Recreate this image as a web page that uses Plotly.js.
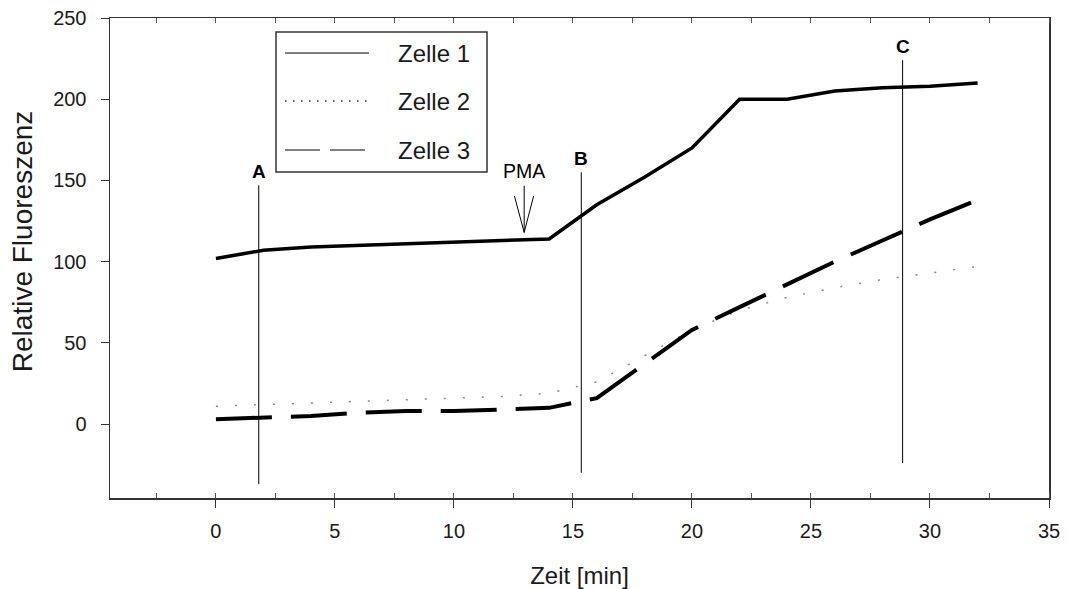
<!DOCTYPE html>
<html>
<head>
<meta charset="utf-8">
<script src="https://cdn.plot.ly/plotly-3.0.1.min.js"></script>
<style>html,body{margin:0;padding:0;background:#fff;}#chart{width:1069px;height:589px;}</style>
</head>
<body>
<div id="chart"></div>
<script>
// ---- data ----
const time = [0, 2, 4, 6, 8, 10, 12, 14, 16, 18, 20, 22, 24, 26, 28, 30, 32];
const zelle1 = [102, 107, 109, 110, 111, 112, 113, 114, 135, 152, 170, 200, 200, 205, 207, 208, 210];
const zelle2 = [11, 12, 13, 14, 15, 16, 17, 19, 26, 42, 58, 70, 78, 84, 89, 93, 97];
const zelle3 = [3, 4, 5, 7, 8, 8, 9, 10, 16, 37, 58, 72, 86, 100, 113, 126, 138];
const seriesNames = ["Zelle 1", "Zelle 2", "Zelle 3"];

const markerLabels = ["A", "B", "C"];
const markerX = [1.8, 15.35, 28.85];
const markerTop = [147, 155, 224];
const markerBottom = [-37, -30, -24];

const pmaLabel = "PMA";
const pmaX = 12.95;
const pmaTip = 118;

const xTicks = [0, 5, 10, 15, 20, 25, 30, 35];
const yTicks = [0, 50, 100, 150, 200, 250];
const xTitle = "Zeit [min]";
const yTitle = "Relative Fluoreszenz";

// ---- styling ----
const FONT = "Liberation Sans, Arial, sans-serif";
const lineStyles = [
  {color: "#000", width: 3.5, dash: "solid"},
  {color: "#888", width: 1.5, dash: "2px,17px"},
  {color: "#000", width: 4, dash: "56px,19px"}
];
const legendStyles = [
  {color: "#000", width: 1, dash: "solid"},
  {color: "#333", width: 1.5, dash: "1.5px,6.5px"},
  {color: "#000", width: 1, dash: "35px,10px"}
];
const seriesY = [zelle1, zelle2, zelle3];

const traces = seriesY.map((ys, i) => ({
  x: time, y: ys, type: "scatter", mode: "lines", name: seriesNames[i],
  line: lineStyles[i], showlegend: false, hoverinfo: "skip"
}));

markerX.forEach((mx, i) => {
  traces.push({
    x: [mx, mx], y: [markerTop[i], markerBottom[i]], type: "scatter", mode: "lines",
    xaxis: "x2", line: {color: "#000", width: 1}, showlegend: false, hoverinfo: "skip"
  });
});

const xRange = [-4.45, 35];
const yRange = [-45.5, 250];

const annotations = markerLabels.map((t, i) => ({
  x: markerX[i], y: markerTop[i], xref: "x", yref: "y", text: "<b>" + t + "</b>",
  showarrow: false, yanchor: "bottom", yshift: 1, font: {family: FONT, size: 19, color: "#000"}
}));
annotations.push({
  x: pmaX, y: pmaTip + 38, xref: "x", yref: "y", text: pmaLabel, showarrow: false,
  yanchor: "middle", font: {family: FONT, size: 19.5, color: "#000"}
});
annotations.push({
  x: -0.0937, y: 0.533, xref: "paper", yref: "paper", text: yTitle, textangle: -90,
  showarrow: false, xanchor: "center", yanchor: "middle",
  font: {family: FONT, size: 28, color: "#1a1a1a"}
});

// legend (manual)
const legX0 = 0.1768, legX1 = 0.4015, legY0 = 0.679, legY1 = 0.971;
const legRowY = [0.927, 0.827, 0.725];
const shapes = [
  {type: "rect", xref: "paper", yref: "paper", x0: legX0, x1: legX1, y0: legY0, y1: legY1,
   line: {color: "#333", width: 1.5}, fillcolor: "rgba(0,0,0,0)"},
  // PMA arrow
  {type: "path", xref: "x", yref: "y",
   path: `M ${pmaX - 0.41},${pmaTip + 22.5} L ${pmaX},${pmaTip} L ${pmaX + 0.4},${pmaTip + 22.5}`,
   line: {color: "#000", width: 1}},
  {type: "line", xref: "x", yref: "y", x0: pmaX, x1: pmaX, y0: pmaTip, y1: pmaTip + 28.7,
   line: {color: "#000", width: 1}}
];
seriesNames.forEach((n, i) => {
  shapes.push({type: "line", xref: "paper", yref: "paper", x0: 0.1864, x1: 0.2758,
    y0: legRowY[i], y1: legRowY[i], line: legendStyles[i]});
  annotations.push({x: 0.3046, y: legRowY[i], xref: "paper", yref: "paper", text: n,
    showarrow: false, xanchor: "left", yanchor: "middle",
    font: {family: FONT, size: 24, color: "#1a1a1a"}});
});

const layout = {
  width: 1069, height: 589,
  margin: {l: 110, r: 20, t: 18, b: 91},
  paper_bgcolor: "#fff", plot_bgcolor: "#fff",
  font: {family: FONT, color: "#1a1a1a"},
  showlegend: false,
  xaxis: {
    range: xRange, tickvals: xTicks, ticks: "outside", ticklen: 8, tickwidth: 1, tickcolor: "#333",
    showline: true, linecolor: "#333", linewidth: 1.5, mirror: true,
    showgrid: false, zeroline: false,
    minor: {dtick: 2.5, tick0: 0, ticks: "inside", ticklen: 5, tickwidth: 1, tickcolor: "#555", showgrid: false},
    tickfont: {family: FONT, size: 20, color: "#1a1a1a"}, ticklabelstandoff: 6,
    title: {text: xTitle, font: {family: FONT, size: 24, color: "#1a1a1a"}, standoff: 27}
  },
  xaxis2: {
    range: xRange, overlaying: "x", side: "top", showticklabels: false, ticks: "",
    showline: false, showgrid: false, zeroline: false, tickvals: xTicks,
    minor: {dtick: 2.5, tick0: 0, ticks: "inside", ticklen: 5, tickwidth: 1, tickcolor: "#555", showgrid: false}
  },
  yaxis: {
    range: yRange, tickvals: yTicks, ticks: "outside", ticklen: 8, tickwidth: 1, tickcolor: "#333",
    showline: true, linecolor: "#333", linewidth: 1.5, mirror: true,
    showgrid: false, zeroline: false,
    tickfont: {family: FONT, size: 20, color: "#1a1a1a"}, ticklabelstandoff: 10
  },
  shapes: shapes,
  annotations: annotations
};

Plotly.newPlot("chart", traces, layout, {staticPlot: true, displayModeBar: false});
</script>
</body>
</html>
